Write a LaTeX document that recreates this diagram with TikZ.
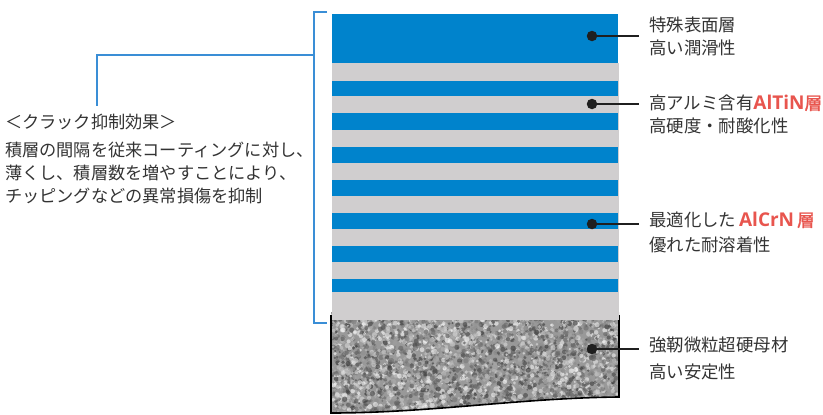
\documentclass[tikz,border=0pt]{standalone}
\usepackage{fontspec}
\setmainfont{Noto Sans CJK JP}
\newfontfamily\latb{Open Sans}
\newfontfamily\cjkbold[FakeBold=1.5]{Noto Sans CJK JP}
\definecolor{txt}{HTML}{333333}
\definecolor{layblue}{HTML}{0083CC}
\definecolor{laygray}{HTML}{D0CECF}
\definecolor{brk}{HTML}{3A8ED6}
\definecolor{redt}{HTML}{E8554E}
\tikzset{
  lbl/.style={anchor=west, inner sep=0pt, text=txt, font=\fontsize{17.4pt}{18pt}\selectfont},
  ltxt/.style={anchor=west, inner sep=0pt, text=txt, font=\fontsize{17.2pt}{18pt}\selectfont},
  pin/.style={circle, fill=black!88, inner sep=0pt, minimum size=10.5pt},
  pinline/.style={draw=black!88, line width=1.6pt},
  brkline/.style={draw=brk, line width=1.6pt},
}
\newcommand{\redb}[1]{{\latb\bfseries\color{redt}\fontsize{19pt}{20pt}\selectfont #1}}
\newcommand{\redk}{{\cjkbold\color{redt}\fontsize{17.6pt}{18pt}\selectfont 層}}
\begin{document}
\begin{tikzpicture}[x=1pt,y=-1pt]
\useasboundingbox (0,0) rectangle (823,415);
% substrate
\begin{scope}
\clip (331,312) -- (619,312) -- (619,397) .. controls (520,398) and (430,413) .. (331,413) -- cycle;
\fill[black!40] (331,312) rectangle (620,414);
\pgfmathsetseed{11}
\foreach \i in {1,...,4200}{
  \pgfmathsetmacro\px{331+rnd*290}
  \pgfmathsetmacro\py{312+rnd*102}
  \pgfmathsetmacro\sh{int(3+rnd*75)}
  \pgfmathsetmacro\rr{1.0+rnd*1.7}
  \fill[black!\sh, fill opacity=0.65] (\px,\py) circle (\rr);
}
\end{scope}
\draw[black, line width=1.6pt] (331,315) -- (331,413) .. controls (430,413) and (520,398) .. (619,397) -- (619,315);
% layers
\fill[laygray] (332,63) rectangle (619,320);
\foreach \a/\b in {14/63, 80.7/96, 113/130, 146.7/163, 180/196, 213/229, 246/262, 279/292}{
  \fill[layblue] (332,\a) rectangle (617.5,\b);
}
% bracket
\coordinate (bt) at (327,12);
\coordinate (bb) at (327,323);
\coordinate (bm) at (314,55);
\coordinate (lt) at (97,106);
\draw[brkline] (bt) -| (314,323) -- (bb);
\draw[brkline] (bm) -| (lt);
% left text
\node[ltxt] (l0) at (5,122) {＜クラック抑制効果＞};
\node[ltxt] (l1) at (5,150) {積層の間隔を従来コーティングに対し、};
\node[ltxt] (l2) at (5,173) {薄くし、積層数を増やすことにより、};
\node[ltxt] (l3) at (5,196) {チッピングなどの異常損傷を抑制};
% pins
\node[pin] (p1) at (592,36) {};
\node[pin] (p2) at (592,104) {};
\node[pin] (p3) at (592,224) {};
\node[pin] (p4) at (592,349) {};
\coordinate (e1) at (639,36);
\coordinate (e2) at (639,104);
\coordinate (e3) at (639,224);
\coordinate (e4) at (639,349);
\draw[pinline] (p1.center) -- (e1);
\draw[pinline] (p2.center) -- (e2);
\draw[pinline] (p3.center) -- (e3);
\draw[pinline] (p4.center) -- (e4);
% right labels
\node[lbl] (r1a) at (649,25) {特殊表面層};
\node[lbl] (r1b) at (649,48) {高い潤滑性};
\node[lbl] (r2a) at (649,103) {高アルミ含有\redb{AlTiN}\redk};
\node[lbl] (r2b) at (649,126) {高硬度・耐酸化性};
\node[lbl] (r3a) at (649,220) {最適化した\,\redb{AlCrN}\,\redk};
\node[lbl] (r3b) at (649,245) {優れた耐溶着性};
\node[lbl] (r4a) at (649,345) {強靭微粒超硬母材};
\node[lbl] (r4b) at (649,372) {高い安定性};
\end{tikzpicture}
\end{document}
